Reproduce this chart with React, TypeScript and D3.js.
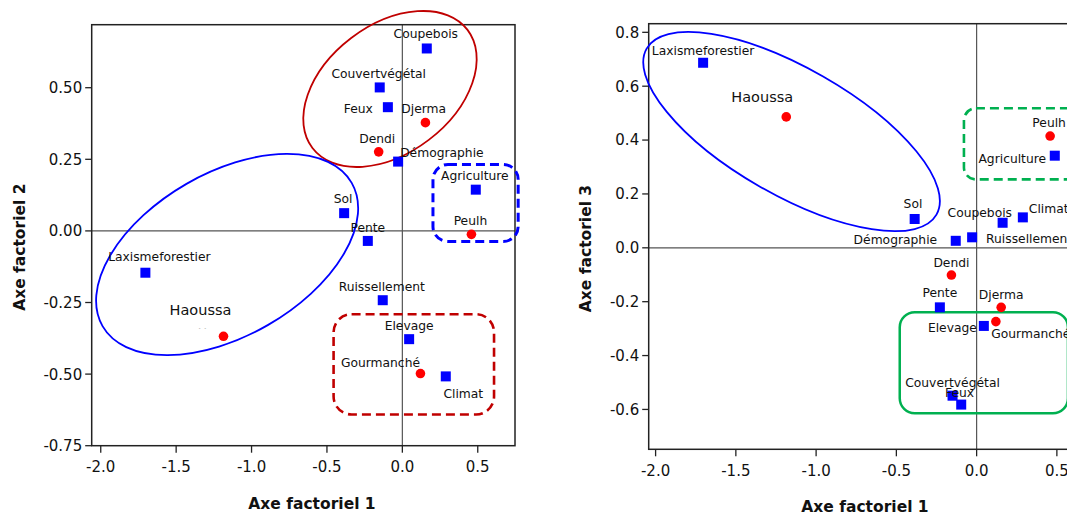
import React from 'react';
import * as d3 from 'd3';

// modalités projetées sur les axes factoriels
const categories = [
  'Laxismeforestier', 'Haoussa', 'Peulh', 'Agriculture', 'Sol', 'Climat', 'Coupebois', 'Ruissellement',
  'Démographie', 'Dendi', 'Pente', 'Djerma', 'Gourmanché', 'Elevage', 'Couvertvégétal', 'Feux'
];
const kinds = [
  'facteur', 'ethnie', 'ethnie', 'facteur', 'facteur', 'facteur', 'facteur', 'facteur',
  'facteur', 'ethnie', 'facteur', 'ethnie', 'ethnie', 'facteur', 'facteur', 'facteur'
];
const axis1 = [-1.704, -1.186, 0.458, 0.487, -0.386, 0.288, 0.162, -0.130, -0.028, -0.157, -0.229, 0.153, 0.120, 0.045, -0.150, -0.096];
const axis2 = [-0.146, -0.368, -0.012, 0.144, 0.062, -0.508, 0.637, -0.242, 0.242, 0.276, -0.035, 0.378, -0.498, -0.378, 0.501, 0.432];
const axis3 = [0.687, 0.486, 0.415, 0.342, 0.107, 0.113, 0.093, 0.026, 0.039, -0.101, -0.221, -0.221, -0.274, -0.290, -0.549, -0.582];

const ticksAxis1 = [-2.0, -1.5, -1.0, -0.5, 0.0, 0.5];
const ticksAxis2 = [-0.75, -0.5, -0.25, 0.0, 0.25, 0.5];
const ticksAxis3 = [-0.6, -0.4, -0.2, 0.0, 0.2, 0.4, 0.6, 0.8];

// placement des étiquettes : [dx, dy, ancrage]
type Lab = [number, number, string];
const labels12: Record<string, Lab> = {
  Laxismeforestier: [14, -11.5, 'middle'], Haoussa: [-23, -21, 'middle'], Peulh: [-1, -9, 'middle'],
  Agriculture: [-1, -9.7, 'middle'], Sol: [-1, -9.7, 'middle'], Climat: [17.5, 22, 'middle'],
  Coupebois: [-1, -10.4, 'middle'], Ruissellement: [-1, -9.3, 'middle'], 'Démographie': [2, -4.4, 'start'],
  Dendi: [-1.4, -9, 'middle'], Pente: [0, -9, 'middle'], Djerma: [-1.7, -9.7, 'middle'],
  'Gourmanché': [-40, -7, 'middle'], Elevage: [0, -9, 'middle'], 'Couvertvégétal': [-1, -9.7, 'middle'],
  Feux: [-15, 5.7, 'end']
};
const labels13: Record<string, Lab> = {
  Laxismeforestier: [0, -7.7, 'middle'], Haoussa: [-24, -15, 'middle'], Peulh: [-1, -8.7, 'middle'],
  Agriculture: [-8.7, 7.6, 'end'], Sol: [-1.7, -10.7, 'middle'], Climat: [6, -4.6, 'start'],
  Coupebois: [9.4, -5.4, 'end'], Ruissellement: [30.3, 2.5, 'start'], 'Démographie': [-35, 7, 'end'],
  Dendi: [0, -8.3, 'middle'], Pente: [0, -10.6, 'middle'], Djerma: [0, -8, 'middle'],
  'Gourmanché': [-4.6, 16.6, 'start'], Elevage: [-7, 6, 'end'], 'Couvertvégétal': [0, -9, 'middle'],
  Feux: [-1.7, -8, 'middle']
};

const FONT = '"DejaVu Sans", Verdana, sans-serif';

interface Ell { cx: number; cy: number; rx: number; ry: number; rot: number; color: string; }
interface Box { x0: number; x1: number; y0: number; y1: number; r: number; color: string; dash?: string; width: number; }

interface PlotProps {
  left: number; right: number; top: number; bottom: number;
  xDomain: [number, number]; yDomain: [number, number];
  yValues: number[]; yTicks: number[]; yFormat: string;
  yTitle: string; xTitleX: number; yTitleX: number;
  labels: Record<string, Lab>;
  ellipses: Ell[]; boxes: Box[];
  children?: React.ReactNode;
}

function Plot(p: PlotProps) {
  const x = d3.scaleLinear().domain(p.xDomain).range([p.left, p.right]);
  const y = d3.scaleLinear().domain(p.yDomain).range([p.bottom, p.top]);
  const fy = d3.format(p.yFormat);
  const fx = d3.format('.1f');
  const yMid = (p.top + p.bottom) / 2 + 12;

  return (
    <g>
      {/* axes de référence */}
      <line x1={x(0)} x2={x(0)} y1={p.top} y2={p.bottom} stroke="#555" strokeWidth={1.2} />
      <line x1={p.left} x2={p.right} y1={y(0)} y2={y(0)} stroke="#555" strokeWidth={1.2} />
      <rect x={p.left} y={p.top} width={p.right - p.left} height={p.bottom - p.top} fill="none" stroke="#222" strokeWidth={1.5} />

      {p.yTicks.map((t) => (
        <g key={'y' + t}>
          <line x1={p.left - 6.5} x2={p.left} y1={y(t)} y2={y(t)} stroke="#222" strokeWidth={1.3} />
          <text x={p.left - 9.5} y={y(t)} dy="0.36em" textAnchor="end" fontSize={15} fill="#111" fontFamily={FONT}>
            {fy(t).replace('−', '-')}
          </text>
        </g>
      ))}
      {ticksAxis1.map((t) => (
        <g key={'x' + t}>
          <line x1={x(t)} x2={x(t)} y1={p.bottom} y2={p.bottom + 7} stroke="#222" strokeWidth={1.3} />
          <text x={x(t)} y={p.bottom + 26.7} textAnchor="middle" fontSize={15} fill="#111" fontFamily={FONT}>
            {fx(t).replace('−', '-')}
          </text>
        </g>
      ))}

      <text x={p.xTitleX} y={p.bottom + 63} textAnchor="middle" fontSize={15.5} fontWeight="bold" fill="#111" fontFamily={FONT}>
        Axe factoriel 1
      </text>
      <text transform={`translate(${p.yTitleX},${yMid}) rotate(-90)`} textAnchor="middle" fontSize={15.5} fontWeight="bold" fill="#111" fontFamily={FONT}>
        {p.yTitle}
      </text>

      {p.ellipses.map((e, i) => (
        <ellipse key={'e' + i} cx={0} cy={0} rx={e.rx} ry={e.ry} fill="none" stroke={e.color} strokeWidth={1.8}
          transform={`translate(${x(e.cx)},${y(e.cy)}) rotate(${e.rot})`} />
      ))}
      {p.boxes.map((b, i) => (
        <rect key={'b' + i} x={x(b.x0)} y={y(b.y1)} width={x(b.x1) - x(b.x0)} height={y(b.y0) - y(b.y1)}
          rx={b.r} ry={b.r} fill="none" stroke={b.color} strokeWidth={b.width} strokeDasharray={b.dash} />
      ))}

      {p.children}

      {categories.map((c, i) => {
        const px = x(axis1[i]);
        const py = y(p.yValues[i]);
        return kinds[i] === 'ethnie'
          ? <circle key={'m' + c} cx={px} cy={py} r={4.8} fill="#ff0000" />
          : <rect key={'m' + c} x={px - 5} y={py - 5} width={10} height={10} fill="#0000ff" />;
      })}
      {categories.map((c, i) => {
        const [dx, dy, anchor] = p.labels[c];
        const big = c === 'Haoussa';
        return (
          <text key={'l' + c} x={x(axis1[i]) + dx} y={y(p.yValues[i]) + dy} textAnchor={anchor as any}
            fontSize={big ? 14.5 : 12.3} fill="#111" fontFamily={FONT}>
            {c}
          </text>
        );
      })}
    </g>
  );
}

export default function App() {
  return (
    <div>
      <style>{'body{margin:0;background:#fff}'}</style>
      <svg width={1067} height={515} style={{ display: 'block', background: '#fff' }}>
        <defs>
          <clipPath id="hiddenLabel">
            <rect x={190} y={325.5} width={70} height={2.8} />
          </clipPath>
        </defs>
        <Plot
          left={91.7} right={515} top={24.7} bottom={445.7}
          xDomain={[-2.06, 0.747]} yDomain={[-0.75, 0.72]}
          yValues={axis2} yTicks={ticksAxis2} yFormat=".2f"
          yTitle="Axe factoriel 2" xTitleX={312} yTitleX={25}
          labels={labels12}
          ellipses={[
            { cx: -0.082, cy: 0.4955, rx: 97.5, ry: 64, rot: -37.3, color: '#c00000' },
            { cx: -1.162, cy: -0.0824, rx: 143.7, ry: 81.5, rot: -29.9, color: '#0000ff' }
          ]}
          boxes={[
            { x0: 0.203, x1: 0.768, y0: -0.037, y1: 0.232, r: 15, color: '#0000ff', dash: '9,5', width: 3 },
            { x0: -0.456, x1: 0.608, y0: -0.641, y1: -0.291, r: 18, color: '#c00000', dash: '9,5', width: 2.6 }
          ]}
        >
          <text x={224} y={336.5} textAnchor="middle" fontSize={12.3} fill="#111" fontFamily={FONT} clipPath="url(#hiddenLabel)">
            Haoussa
          </text>
        </Plot>
        <Plot
          left={648.7} right={1097} top={23.7} bottom={449.3}
          xDomain={[-2.043, 0.75]} yDomain={[-0.748, 0.832]}
          yValues={axis3} yTicks={ticksAxis3} yFormat=".1f"
          yTitle="Axe factoriel 3" xTitleX={865} yTitleX={591}
          labels={labels13}
          ellipses={[
            { cx: -1.153, cy: 0.4315, rx: 167, ry: 63.5, rot: 29.8, color: '#0000ff' }
          ]}
          boxes={[
            { x0: -0.079, x1: 0.85, y0: 0.254, y1: 0.518, r: 12, color: '#00b050', dash: '9,5', width: 2.6 },
            { x0: -0.479, x1: 0.569, y0: -0.614, y1: -0.239, r: 15, color: '#00b050', width: 2.5 }
          ]}
        />
      </svg>
    </div>
  );
}
